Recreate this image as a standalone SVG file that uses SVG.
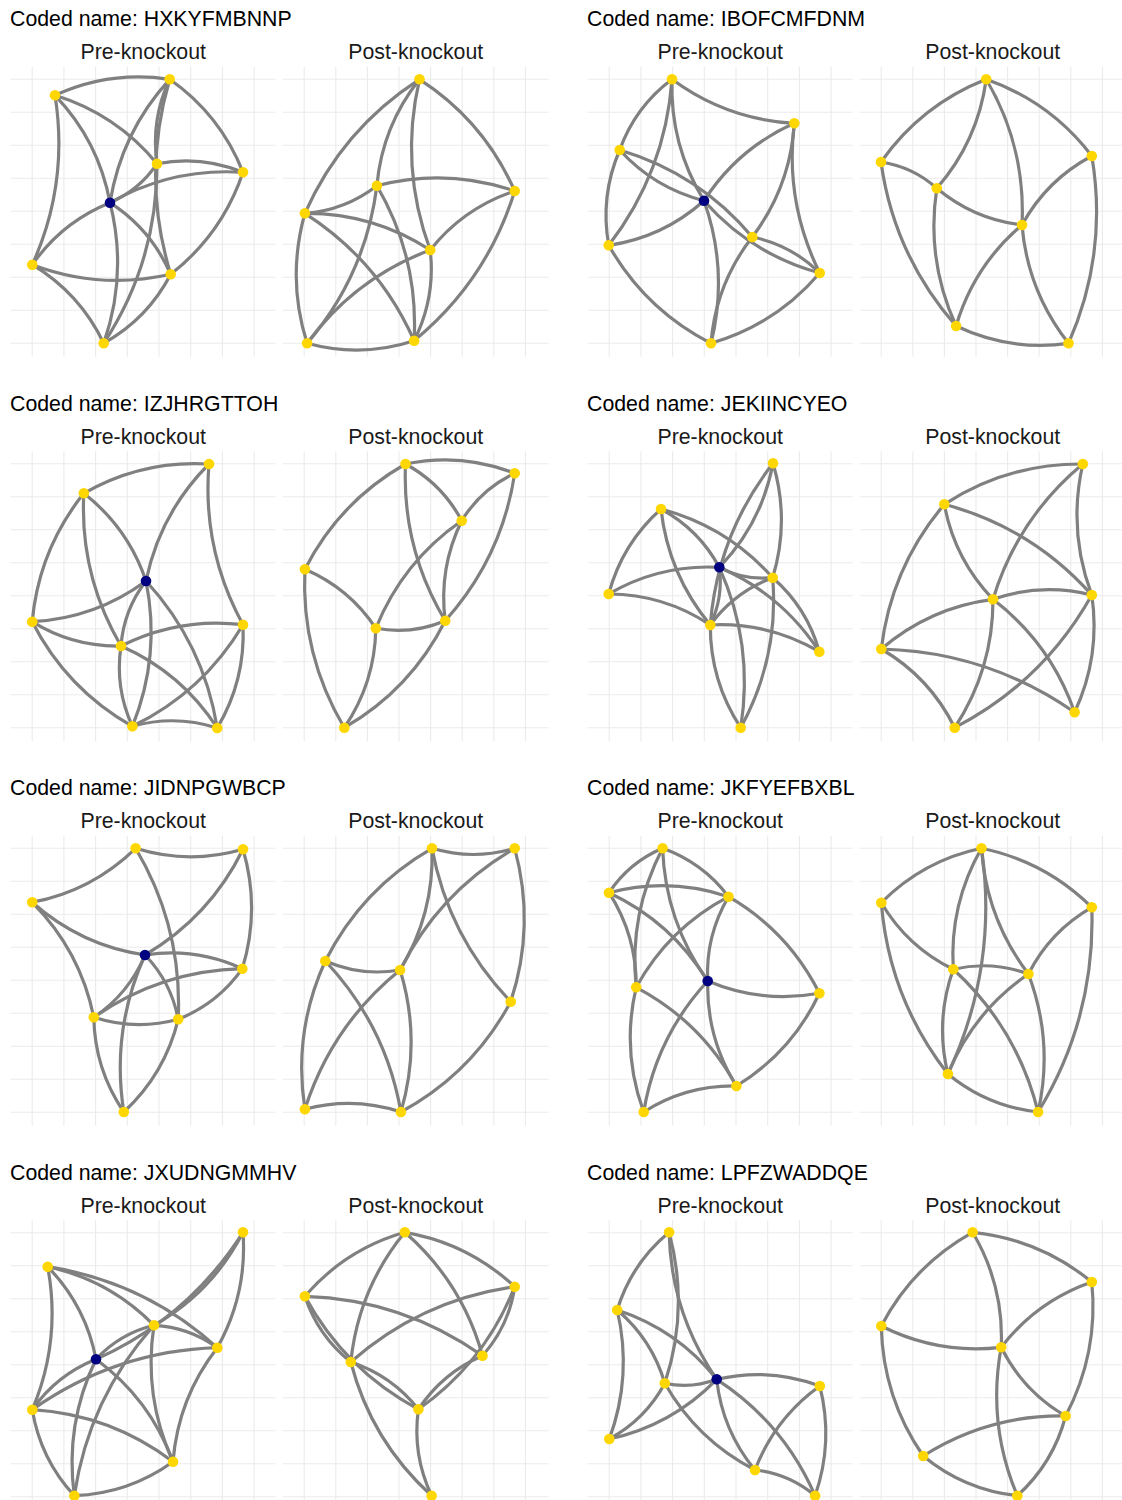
<svg xmlns="http://www.w3.org/2000/svg" xmlns:xlink="http://www.w3.org/1999/xlink" width="1122" height="1500" viewBox="0 0 1122 1500">
<style>
.t{font-family:"Liberation Sans",Arial,sans-serif;font-size:21.3px;fill:#000}
.st{font-family:"Liberation Sans",Arial,sans-serif;font-size:21.3px;fill:#1a1a1a;text-anchor:middle}
.gl{fill:none;stroke:#ebebeb;stroke-width:1.1}
.e path{fill:none;stroke:#808080;stroke-width:3.2;vector-effect:non-scaling-stroke}
.n{fill:#ffd700}
.k{fill:#000080}
</style>
<defs>
<g id="grid">
<path class="gl" d="M32.2 66.7V356.7M63.9 66.7V356.7M95.6 66.7V356.7M127.3 66.7V356.7M159 66.7V356.7M190.7 66.7V356.7M222.4 66.7V356.7M254.1 66.7V356.7M10.7 79.3H275.6M10.7 112.3H275.6M10.7 145.3H275.6M10.7 178.3H275.6M10.7 211.3H275.6M10.7 244.3H275.6M10.7 277.3H275.6M10.7 310.3H275.6M10.7 343.3H275.6"/>
<path class="gl" d="M304.2 66.7V356.7M335.8 66.7V356.7M367.4 66.7V356.7M399 66.7V356.7M430.6 66.7V356.7M462.2 66.7V356.7M493.8 66.7V356.7M525.4 66.7V356.7M282.8 79.3H548.7M282.8 112.3H548.7M282.8 145.3H548.7M282.8 178.3H548.7M282.8 211.3H548.7M282.8 244.3H548.7M282.8 277.3H548.7M282.8 310.3H548.7M282.8 343.3H548.7"/>
</g>
</defs>
<rect width="1122" height="1500" fill="#fff"/>
<g id="grids">
<use href="#grid" x="0" y="0"/>
<use href="#grid" x="577" y="0"/>
<use href="#grid" x="0" y="384.5"/>
<use href="#grid" x="577" y="384.5"/>
<use href="#grid" x="0" y="769"/>
<use href="#grid" x="577" y="769"/>
<use href="#grid" x="0" y="1153.5"/>
<use href="#grid" x="577" y="1153.5"/>
</g>
<g id="titles">
<g transform="translate(0,0)"><text class="t" x="10" y="26">Coded name: HXKYFMBNNP</text><text class="st" x="143.2" y="59.3">Pre-knockout</text><text class="st" x="415.7" y="59.3">Post-knockout</text></g>
<g transform="translate(577,0)"><text class="t" x="10" y="26">Coded name: IBOFCMFDNM</text><text class="st" x="143.2" y="59.3">Pre-knockout</text><text class="st" x="415.7" y="59.3">Post-knockout</text></g>
<g transform="translate(0,384.5)"><text class="t" x="10" y="26">Coded name: IZJHRGTTOH</text><text class="st" x="143.2" y="59.3">Pre-knockout</text><text class="st" x="415.7" y="59.3">Post-knockout</text></g>
<g transform="translate(577,384.5)"><text class="t" x="10" y="26">Coded name: JEKIINCYEO</text><text class="st" x="143.2" y="59.3">Pre-knockout</text><text class="st" x="415.7" y="59.3">Post-knockout</text></g>
<g transform="translate(0,769)"><text class="t" x="10" y="26">Coded name: JIDNPGWBCP</text><text class="st" x="143.2" y="59.3">Pre-knockout</text><text class="st" x="415.7" y="59.3">Post-knockout</text></g>
<g transform="translate(577,769)"><text class="t" x="10" y="26">Coded name: JKFYEFBXBL</text><text class="st" x="143.2" y="59.3">Pre-knockout</text><text class="st" x="415.7" y="59.3">Post-knockout</text></g>
<g transform="translate(0,1153.5)"><text class="t" x="10" y="26">Coded name: JXUDNGMMHV</text><text class="st" x="143.2" y="59.3">Pre-knockout</text><text class="st" x="415.7" y="59.3">Post-knockout</text></g>
<g transform="translate(577,1153.5)"><text class="t" x="10" y="26">Coded name: LPFZWADDQE</text><text class="st" x="143.2" y="59.3">Pre-knockout</text><text class="st" x="415.7" y="59.3">Post-knockout</text></g>
</g>
<g id="connectors" class="e">
<!-- b1 pre -->
<path d="M0 0Q.5 .15 1 0" transform="matrix(-114.7 16 -16 -114.7 169.7 79.3)"/>
<path d="M0 0Q.5 .15 1 0" transform="matrix(22.7 -169.4 169.4 22.7 32.3 264.7)"/>
<path d="M0 0Q.5 .15 1 0" transform="matrix(-102 -68.4 68.4 -102 157 163.7)"/>
<path d="M0 0Q.5 .15 1 0" transform="matrix(-55 -107.4 107.4 -55 110 202.7)"/>
<path d="M0 0Q.5 .15 1 0" transform="matrix(-73.3 -93 93 -73.3 243 172.3)"/>
<path d="M0 0Q.5 .15 1 0" transform="matrix(-59.7 123.4 -123.4 -59.7 169.7 79.3)"/>
<path d="M0 0Q.5 .15 1 0" transform="matrix(-12.7 84.4 -84.4 -12.7 169.7 79.3)"/>
<path d="M0 0Q.5 .15 1 0" transform="matrix(1 195 -195 1 169.7 79.3)"/>
<path d="M0 0Q.5 .15 1 0" transform="matrix(-86 -8.6 8.6 -86 243 172.3)"/>
<path d="M0 0Q.5 .15 1 0" transform="matrix(53.3 -179.6 179.6 53.3 103.7 343.3)"/>
<path d="M0 0Q.5 .15 1 0" transform="matrix(-133 30.4 -30.4 -133 243 172.3)"/>
<path d="M0 0Q.5 .15 1 0" transform="matrix(47 -39 39 47 110 202.7)"/>
<path d="M0 0Q.5 .15 1 0" transform="matrix(-77.7 62 -62 -77.7 110 202.7)"/>
<path d="M0 0Q.5 .15 1 0" transform="matrix(-60.7 -71.6 71.6 -60.7 170.7 274.3)"/>
<path d="M0 0Q.5 .15 1 0" transform="matrix(6.3 -140.6 140.6 6.3 103.7 343.3)"/>
<path d="M0 0Q.5 .15 1 0" transform="matrix(138.4 9.6 -9.6 138.4 32.3 264.7)"/>
<path d="M0 0Q.5 .15 1 0" transform="matrix(-71.4 -78.6 78.6 -71.4 103.7 343.3)"/>
<path d="M0 0Q.5 .15 1 0" transform="matrix(72.3 -102 102 72.3 170.7 274.3)"/>
<path d="M0 0Q.5 .15 1 0" transform="matrix(67 -69 69 67 103.7 343.3)"/>
<!-- b1 post -->
<path d="M0 0Q.5 .15 1 0" transform="matrix(-95.2 -111.7 111.7 -95.2 514.7 191)"/>
<path d="M0 0Q.5 .15 1 0" transform="matrix(-114.6 134 -134 -114.6 419.5 79.3)"/>
<path d="M0 0Q.5 .15 1 0" transform="matrix(-42.6 106.4 -106.4 -42.6 419.5 79.3)"/>
<path d="M0 0Q.5 .15 1 0" transform="matrix(10.7 170.7 -170.7 10.7 419.5 79.3)"/>
<path d="M0 0Q.5 .15 1 0" transform="matrix(-137.8 -5.3 5.3 -137.8 514.7 191)"/>
<path d="M0 0Q.5 .15 1 0" transform="matrix(72 -27.6 27.6 72 304.9 213.3)"/>
<path d="M0 0Q.5 .15 1 0" transform="matrix(-37.2 -155 155 -37.2 414.1 340.7)"/>
<path d="M0 0Q.5 .15 1 0" transform="matrix(69.8 -157.6 157.6 69.8 307.1 343.3)"/>
<path d="M0 0Q.5 .15 1 0" transform="matrix(-125.3 -36.7 36.7 -125.3 430.2 250)"/>
<path d="M0 0Q.5 .15 1 0" transform="matrix(-109.2 -127.4 127.4 -109.2 414.1 340.7)"/>
<path d="M0 0Q.5 .15 1 0" transform="matrix(2.2 130 -130 2.2 304.9 213.3)"/>
<path d="M0 0Q.5 .15 1 0" transform="matrix(-84.5 59 -59 -84.5 514.7 191)"/>
<path d="M0 0Q.5 .15 1 0" transform="matrix(100.6 -149.7 149.7 100.6 414.1 340.7)"/>
<path d="M0 0Q.5 .15 1 0" transform="matrix(-123.1 93.3 -93.3 -123.1 430.2 250)"/>
<path d="M0 0Q.5 .15 1 0" transform="matrix(107 -2.6 2.6 107 307.1 343.3)"/>
<path d="M0 0Q.5 .15 1 0" transform="matrix(16.1 -90.7 90.7 16.1 414.1 340.7)"/>
<!-- b2 pre -->
<path d="M0 0Q.5 .15 1 0" transform="matrix(122.3 44 -44 122.3 672 79.3)"/>
<path d="M0 0Q.5 .15 1 0" transform="matrix(-52.3 70.7 -70.7 -52.3 672 79.3)"/>
<path d="M0 0Q.5 .15 1 0" transform="matrix(63.3 -166 166 63.3 608.7 245.3)"/>
<path d="M0 0Q.5 .15 1 0" transform="matrix(32 121.4 -121.4 32 672 79.3)"/>
<path d="M0 0Q.5 .15 1 0" transform="matrix(-90.3 77.4 -77.4 -90.3 794.3 123.3)"/>
<path d="M0 0Q.5 .15 1 0" transform="matrix(42 -113.7 113.7 42 752.3 237)"/>
<path d="M0 0Q.5 .15 1 0" transform="matrix(25.4 149.7 -149.7 25.4 794.3 123.3)"/>
<path d="M0 0Q.5 .15 1 0" transform="matrix(-11 95.3 -95.3 -11 619.7 150)"/>
<path d="M0 0Q.5 .15 1 0" transform="matrix(84.3 50.7 -50.7 84.3 619.7 150)"/>
<path d="M0 0Q.5 .15 1 0" transform="matrix(-132.6 -87 87 -132.6 752.3 237)"/>
<path d="M0 0Q.5 .15 1 0" transform="matrix(95.3 -44.6 44.6 95.3 608.7 245.3)"/>
<path d="M0 0Q.5 .15 1 0" transform="matrix(102.3 98 -98 102.3 608.7 245.3)"/>
<path d="M0 0Q.5 .15 1 0" transform="matrix(-7 -142.6 142.6 -7 711 343.3)"/>
<path d="M0 0Q.5 .15 1 0" transform="matrix(-41.3 106.3 -106.3 -41.3 752.3 237)"/>
<path d="M0 0Q.5 .15 1 0" transform="matrix(108.7 -70.3 70.3 108.7 711 343.3)"/>
<path d="M0 0Q.5 .15 1 0" transform="matrix(-67.4 -36 36 -67.4 819.7 273)"/>
<path d="M0 0Q.5 .15 1 0" transform="matrix(115.7 72.3 -72.3 115.7 704 200.7)"/>
<!-- b2 post -->
<path d="M0 0Q.5 .15 1 0" transform="matrix(-105.2 82.7 -82.7 -105.2 986.2 79.3)"/>
<path d="M0 0Q.5 .15 1 0" transform="matrix(-105.6 -76.7 76.7 -105.6 1091.8 156)"/>
<path d="M0 0Q.5 .15 1 0" transform="matrix(49.4 -109 109 49.4 936.8 188.3)"/>
<path d="M0 0Q.5 .15 1 0" transform="matrix(-35.8 -145.7 145.7 -35.8 1022 225)"/>
<path d="M0 0Q.5 .15 1 0" transform="matrix(-55.8 -26.3 26.3 -55.8 936.8 188.3)"/>
<path d="M0 0Q.5 .15 1 0" transform="matrix(75.1 164 -164 75.1 881 162)"/>
<path d="M0 0Q.5 .15 1 0" transform="matrix(85.2 36.7 -36.7 85.2 936.8 188.3)"/>
<path d="M0 0Q.5 .15 1 0" transform="matrix(19.3 137.7 -137.7 19.3 936.8 188.3)"/>
<path d="M0 0Q.5 .15 1 0" transform="matrix(-69.8 69 -69 -69.8 1091.8 156)"/>
<path d="M0 0Q.5 .15 1 0" transform="matrix(23.3 -187.3 187.3 23.3 1068.5 343.3)"/>
<path d="M0 0Q.5 .15 1 0" transform="matrix(-65.9 101 -101 -65.9 1022 225)"/>
<path d="M0 0Q.5 .15 1 0" transform="matrix(46.5 118.3 -118.3 46.5 1022 225)"/>
<path d="M0 0Q.5 .15 1 0" transform="matrix(112.4 17.3 -17.3 112.4 956.1 326)"/>
<!-- b3 pre -->
<path d="M0 0Q.5 .15 1 0" transform="matrix(-125.2 29.3 -29.3 -125.2 209 464)"/>
<path d="M0 0Q.5 .15 1 0" transform="matrix(-63 117 -117 -63 209 464)"/>
<path d="M0 0Q.5 .15 1 0" transform="matrix(34 160.7 -160.7 34 209 464)"/>
<path d="M0 0Q.5 .15 1 0" transform="matrix(-51.6 128.4 -128.4 -51.6 83.8 493.3)"/>
<path d="M0 0Q.5 .15 1 0" transform="matrix(-62.2 -87.7 87.7 -62.2 146 581)"/>
<path d="M0 0Q.5 .15 1 0" transform="matrix(37.2 152.7 -152.7 37.2 83.8 493.3)"/>
<path d="M0 0Q.5 .15 1 0" transform="matrix(113.8 -40.7 40.7 113.8 32.2 621.7)"/>
<path d="M0 0Q.5 .15 1 0" transform="matrix(88.8 24.3 -24.3 88.8 32.2 621.7)"/>
<path d="M0 0Q.5 .15 1 0" transform="matrix(100.2 104.6 -104.6 100.2 32.2 621.7)"/>
<path d="M0 0Q.5 .15 1 0" transform="matrix(-25 65 -65 -25 146 581)"/>
<path d="M0 0Q.5 .15 1 0" transform="matrix(13.6 -145.3 145.3 13.6 132.4 726.3)"/>
<path d="M0 0Q.5 .15 1 0" transform="matrix(-71.2 -147 147 -71.2 217.2 728)"/>
<path d="M0 0Q.5 .15 1 0" transform="matrix(-122 21.3 -21.3 -122 243 624.7)"/>
<path d="M0 0Q.5 .15 1 0" transform="matrix(11.4 80.3 -80.3 11.4 121 646)"/>
<path d="M0 0Q.5 .15 1 0" transform="matrix(-96.2 -82 82 -96.2 217.2 728)"/>
<path d="M0 0Q.5 .15 1 0" transform="matrix(110.6 -101.6 101.6 110.6 132.4 726.3)"/>
<path d="M0 0Q.5 .15 1 0" transform="matrix(-84.8 -1.7 1.7 -84.8 217.2 728)"/>
<path d="M0 0Q.5 .15 1 0" transform="matrix(25.8 -103.3 103.3 25.8 217.2 728)"/>
<!-- b3 post -->
<path d="M0 0Q.5 .15 1 0" transform="matrix(-109.2 -9.3 9.3 -109.2 514.7 473.3)"/>
<path d="M0 0Q.5 .15 1 0" transform="matrix(-100.6 105.3 -105.3 -100.6 405.5 464)"/>
<path d="M0 0Q.5 .15 1 0" transform="matrix(-56.2 -56.7 56.7 -56.2 461.7 520.7)"/>
<path d="M0 0Q.5 .15 1 0" transform="matrix(39.7 156.7 -156.7 39.7 405.5 464)"/>
<path d="M0 0Q.5 .15 1 0" transform="matrix(-53 47.4 -47.4 -53 514.7 473.3)"/>
<path d="M0 0Q.5 .15 1 0" transform="matrix(69.5 -147.4 147.4 69.5 445.2 620.7)"/>
<path d="M0 0Q.5 .15 1 0" transform="matrix(-85.9 107.6 -107.6 -85.9 461.7 520.7)"/>
<path d="M0 0Q.5 .15 1 0" transform="matrix(-16.5 100 -100 -16.5 461.7 520.7)"/>
<path d="M0 0Q.5 .15 1 0" transform="matrix(-70.9 -59 59 -70.9 375.8 628.3)"/>
<path d="M0 0Q.5 .15 1 0" transform="matrix(39.4 158.4 -158.4 39.4 304.9 569.3)"/>
<path d="M0 0Q.5 .15 1 0" transform="matrix(69.4 -7.6 7.6 69.4 375.8 628.3)"/>
<path d="M0 0Q.5 .15 1 0" transform="matrix(31.5 -99.4 99.4 31.5 344.3 727.7)"/>
<path d="M0 0Q.5 .15 1 0" transform="matrix(100.9 -107 107 100.9 344.3 727.7)"/>
<!-- b4 pre -->
<path d="M0 0Q.5 .15 1 0" transform="matrix(-52.3 85 -85 -52.3 661 509)"/>
<path d="M0 0Q.5 .15 1 0" transform="matrix(-110.6 26.7 -26.7 -110.6 719.3 567.3)"/>
<path d="M0 0Q.5 .15 1 0" transform="matrix(-101.6 -31 31 -101.6 710.3 625)"/>
<path d="M0 0Q.5 .15 1 0" transform="matrix(49.3 116 -116 49.3 661 509)"/>
<path d="M0 0Q.5 .15 1 0" transform="matrix(-58.3 -58.3 58.3 -58.3 719.3 567.3)"/>
<path d="M0 0Q.5 .15 1 0" transform="matrix(-111.7 -68.7 68.7 -111.7 772.7 577.7)"/>
<path d="M0 0Q.5 .15 1 0" transform="matrix(-46.6 -74 74 -46.6 819.3 651.7)"/>
<path d="M0 0Q.5 .15 1 0" transform="matrix(-100 -84.4 84.4 -100 819.3 651.7)"/>
<path d="M0 0Q.5 .15 1 0" transform="matrix(-109 -26.7 26.7 -109 819.3 651.7)"/>
<path d="M0 0Q.5 .15 1 0" transform="matrix(53.4 10.4 -10.4 53.4 719.3 567.3)"/>
<path d="M0 0Q.5 .15 1 0" transform="matrix(0.3 -114.4 114.4 0.3 772.7 577.7)"/>
<path d="M0 0Q.5 .15 1 0" transform="matrix(32 -150 150 32 740.7 727.7)"/>
<path d="M0 0Q.5 .15 1 0" transform="matrix(53.7 -104 104 53.7 719.3 567.3)"/>
<path d="M0 0Q.5 .15 1 0" transform="matrix(-62.7 161.7 -161.7 -62.7 773 463.3)"/>
<path d="M0 0Q.5 .15 1 0" transform="matrix(9 -57.7 57.7 9 710.3 625)"/>
<path d="M0 0Q.5 .15 1 0" transform="matrix(-21.4 -160.4 160.4 -21.4 740.7 727.7)"/>
<path d="M0 0Q.5 .15 1 0" transform="matrix(30.4 102.7 -102.7 30.4 710.3 625)"/>
<path d="M0 0Q.5 .15 1 0" transform="matrix(-62.4 47.3 -47.3 -62.4 772.7 577.7)"/>
<!-- b4 post -->
<path d="M0 0Q.5 .15 1 0" transform="matrix(-138.5 40.3 -40.3 -138.5 1082.8 464)"/>
<path d="M0 0Q.5 .15 1 0" transform="matrix(9 131 -131 9 1082.8 464)"/>
<path d="M0 0Q.5 .15 1 0" transform="matrix(-89.8 135.3 -135.3 -89.8 1082.8 464)"/>
<path d="M0 0Q.5 .15 1 0" transform="matrix(-63 144.7 -144.7 -63 944.3 504.3)"/>
<path d="M0 0Q.5 .15 1 0" transform="matrix(48.7 95 -95 48.7 944.3 504.3)"/>
<path d="M0 0Q.5 .15 1 0" transform="matrix(-147.5 -90.7 90.7 -147.5 1091.8 595)"/>
<path d="M0 0Q.5 .15 1 0" transform="matrix(-98.8 4.3 -4.3 -98.8 1091.8 595)"/>
<path d="M0 0Q.5 .15 1 0" transform="matrix(-111.7 49.7 -49.7 -111.7 993 599.3)"/>
<path d="M0 0Q.5 .15 1 0" transform="matrix(-73.4 -78.7 78.7 -73.4 954.7 727.7)"/>
<path d="M0 0Q.5 .15 1 0" transform="matrix(-193.3 -63.3 63.3 -193.3 1074.6 712.3)"/>
<path d="M0 0Q.5 .15 1 0" transform="matrix(38.3 -128.4 128.4 38.3 954.7 727.7)"/>
<path d="M0 0Q.5 .15 1 0" transform="matrix(-81.6 -113 113 -81.6 1074.6 712.3)"/>
<path d="M0 0Q.5 .15 1 0" transform="matrix(137.1 -132.7 132.7 137.1 954.7 727.7)"/>
<path d="M0 0Q.5 .15 1 0" transform="matrix(17.2 -117.3 117.3 17.2 1074.6 712.3)"/>
<!-- b5 pre -->
<path d="M0 0Q.5 .15 1 0" transform="matrix(107.4 1 -1 107.4 135.6 848.3)"/>
<path d="M0 0Q.5 .15 1 0" transform="matrix(103.4 -54 54 103.4 32.2 902.3)"/>
<path d="M0 0Q.5 .15 1 0" transform="matrix(-42.6 -171 171 -42.6 178.2 1019.3)"/>
<path d="M0 0Q.5 .15 1 0" transform="matrix(0.7 -119.4 119.4 0.7 242.3 968.7)"/>
<path d="M0 0Q.5 .15 1 0" transform="matrix(98 -105.7 105.7 98 145 955)"/>
<path d="M0 0Q.5 .15 1 0" transform="matrix(112.8 52.7 -52.7 112.8 32.2 902.3)"/>
<path d="M0 0Q.5 .15 1 0" transform="matrix(-61.6 -115 115 -61.6 93.8 1017.3)"/>
<path d="M0 0Q.5 .15 1 0" transform="matrix(-97.3 -13.7 13.7 -97.3 242.3 968.7)"/>
<path d="M0 0Q.5 .15 1 0" transform="matrix(51.2 -62.3 62.3 51.2 93.8 1017.3)"/>
<path d="M0 0Q.5 .15 1 0" transform="matrix(-33.2 -64.3 64.3 -33.2 178.2 1019.3)"/>
<path d="M0 0Q.5 .15 1 0" transform="matrix(-21.2 157 -157 -21.2 145 955)"/>
<path d="M0 0Q.5 .15 1 0" transform="matrix(-148.5 48.6 -48.6 -148.5 242.3 968.7)"/>
<path d="M0 0Q.5 .15 1 0" transform="matrix(84.4 2 -2 84.4 93.8 1017.3)"/>
<path d="M0 0Q.5 .15 1 0" transform="matrix(30 94.7 -94.7 30 93.8 1017.3)"/>
<path d="M0 0Q.5 .15 1 0" transform="matrix(64.1 -50.6 50.6 64.1 178.2 1019.3)"/>
<path d="M0 0Q.5 .15 1 0" transform="matrix(54.4 -92.7 92.7 54.4 123.8 1112)"/>
<!-- b5 post -->
<path d="M0 0Q.5 .15 1 0" transform="matrix(82.7 0 0 82.7 432 848.3)"/>
<path d="M0 0Q.5 .15 1 0" transform="matrix(-106.7 112.7 -112.7 -106.7 432 848.3)"/>
<path d="M0 0Q.5 .15 1 0" transform="matrix(31.9 -121.7 121.7 31.9 400.1 970)"/>
<path d="M0 0Q.5 .15 1 0" transform="matrix(78.7 153.4 -153.4 78.7 432 848.3)"/>
<path d="M0 0Q.5 .15 1 0" transform="matrix(-114.6 121.7 -121.7 -114.6 514.7 848.3)"/>
<path d="M0 0Q.5 .15 1 0" transform="matrix(4 -153.4 153.4 4 510.7 1001.7)"/>
<path d="M0 0Q.5 .15 1 0" transform="matrix(74.8 9 -9 74.8 325.3 961)"/>
<path d="M0 0Q.5 .15 1 0" transform="matrix(-20.4 148.3 -148.3 -20.4 325.3 961)"/>
<path d="M0 0Q.5 .15 1 0" transform="matrix(-75.6 -151 151 -75.6 400.9 1112)"/>
<path d="M0 0Q.5 .15 1 0" transform="matrix(-95.2 139.3 -139.3 -95.2 400.1 970)"/>
<path d="M0 0Q.5 .15 1 0" transform="matrix(-0.8 -142 142 -0.8 400.9 1112)"/>
<path d="M0 0Q.5 .15 1 0" transform="matrix(109.8 -110.3 110.3 109.8 400.9 1112)"/>
<path d="M0 0Q.5 .15 1 0" transform="matrix(-96 -2.7 2.7 -96 400.9 1112)"/>
<!-- b6 pre -->
<path d="M0 0Q.5 .15 1 0" transform="matrix(-53.6 44.4 -44.4 -53.6 662.6 848.3)"/>
<path d="M0 0Q.5 .15 1 0" transform="matrix(-65.9 -48.4 48.4 -65.9 728.5 896.7)"/>
<path d="M0 0Q.5 .15 1 0" transform="matrix(-119.5 -4 4 -119.5 728.5 896.7)"/>
<path d="M0 0Q.5 .15 1 0" transform="matrix(-26.4 139 -139 -26.4 662.6 848.3)"/>
<path d="M0 0Q.5 .15 1 0" transform="matrix(45.1 132.7 -132.7 45.1 662.6 848.3)"/>
<path d="M0 0Q.5 .15 1 0" transform="matrix(-98.7 -88.3 88.3 -98.7 707.7 981)"/>
<path d="M0 0Q.5 .15 1 0" transform="matrix(-27.2 -94.6 94.6 -27.2 636.2 987.3)"/>
<path d="M0 0Q.5 .15 1 0" transform="matrix(-92.3 90.6 -90.6 -92.3 728.5 896.7)"/>
<path d="M0 0Q.5 .15 1 0" transform="matrix(-20.8 84.3 -84.3 -20.8 728.5 896.7)"/>
<path d="M0 0Q.5 .15 1 0" transform="matrix(-90.9 -96.6 96.6 -90.9 819.4 993.3)"/>
<path d="M0 0Q.5 .15 1 0" transform="matrix(111.7 12.3 -12.3 111.7 707.7 981)"/>
<path d="M0 0Q.5 .15 1 0" transform="matrix(7.5 124.7 -124.7 7.5 636.2 987.3)"/>
<path d="M0 0Q.5 .15 1 0" transform="matrix(-100.2 -98.7 98.7 -100.2 736.4 1086)"/>
<path d="M0 0Q.5 .15 1 0" transform="matrix(-64 131 -131 -64 707.7 981)"/>
<path d="M0 0Q.5 .15 1 0" transform="matrix(28.7 105 -105 28.7 707.7 981)"/>
<path d="M0 0Q.5 .15 1 0" transform="matrix(83 -92.7 92.7 83 736.4 1086)"/>
<path d="M0 0Q.5 .15 1 0" transform="matrix(-92.7 26 -26 -92.7 736.4 1086)"/>
<!-- b6 post -->
<path d="M0 0Q.5 .15 1 0" transform="matrix(-100.2 54.4 -54.4 -100.2 981.5 848.3)"/>
<path d="M0 0Q.5 .15 1 0" transform="matrix(-110.3 -59 59 -110.3 1091.8 907.3)"/>
<path d="M0 0Q.5 .15 1 0" transform="matrix(-28.2 121 -121 -28.2 981.5 848.3)"/>
<path d="M0 0Q.5 .15 1 0" transform="matrix(33.6 -225.7 225.7 33.6 947.9 1074)"/>
<path d="M0 0Q.5 .15 1 0" transform="matrix(46.9 125.7 -125.7 46.9 981.5 848.3)"/>
<path d="M0 0Q.5 .15 1 0" transform="matrix(72 66.6 -66.6 72 881.3 902.7)"/>
<path d="M0 0Q.5 .15 1 0" transform="matrix(66.6 171.3 -171.3 66.6 881.3 902.7)"/>
<path d="M0 0Q.5 .15 1 0" transform="matrix(-63.4 66.7 -66.7 -63.4 1091.8 907.3)"/>
<path d="M0 0Q.5 .15 1 0" transform="matrix(53.7 -204.7 204.7 53.7 1038.1 1112)"/>
<path d="M0 0Q.5 .15 1 0" transform="matrix(-75.1 -4.7 4.7 -75.1 1028.4 974)"/>
<path d="M0 0Q.5 .15 1 0" transform="matrix(-84.8 -142.7 142.7 -84.8 1038.1 1112)"/>
<path d="M0 0Q.5 .15 1 0" transform="matrix(-5.4 104.7 -104.7 -5.4 953.3 969.3)"/>
<path d="M0 0Q.5 .15 1 0" transform="matrix(-80.5 100 -100 -80.5 1028.4 974)"/>
<path d="M0 0Q.5 .15 1 0" transform="matrix(-9.7 -138 138 -9.7 1038.1 1112)"/>
<path d="M0 0Q.5 .15 1 0" transform="matrix(90.2 38 -38 90.2 947.9 1074)"/>
<!-- b7 pre -->
<path d="M0 0Q.5 .15 1 0" transform="matrix(89 -93 93 89 154 1325.3)"/>
<path d="M0 0Q.5 .15 1 0" transform="matrix(147 -127 127 147 96 1359.3)"/>
<path d="M0 0Q.5 .15 1 0" transform="matrix(-58 34 -34 -58 154 1325.3)"/>
<path d="M0 0Q.5 .15 1 0" transform="matrix(25.7 -115.4 115.4 25.7 217.3 1347.7)"/>
<path d="M0 0Q.5 .15 1 0" transform="matrix(15.4 -143 143 15.4 32.3 1409.7)"/>
<path d="M0 0Q.5 .15 1 0" transform="matrix(-48.3 -92.6 92.6 -48.3 96 1359.3)"/>
<path d="M0 0Q.5 .15 1 0" transform="matrix(-169.6 -81 81 -169.6 217.3 1347.7)"/>
<path d="M0 0Q.5 .15 1 0" transform="matrix(-106.3 -58.6 58.6 -106.3 154 1325.3)"/>
<path d="M0 0Q.5 .15 1 0" transform="matrix(-63.3 -22.4 22.4 -63.3 217.3 1347.7)"/>
<path d="M0 0Q.5 .15 1 0" transform="matrix(-63.7 50.4 -50.4 -63.7 96 1359.3)"/>
<path d="M0 0Q.5 .15 1 0" transform="matrix(-185 62 -62 -185 217.3 1347.7)"/>
<path d="M0 0Q.5 .15 1 0" transform="matrix(-140.7 -52 52 -140.7 173 1461.7)"/>
<path d="M0 0Q.5 .15 1 0" transform="matrix(42 86 -86 42 32.3 1409.7)"/>
<path d="M0 0Q.5 .15 1 0" transform="matrix(-77 -102.4 102.4 -77 173 1461.7)"/>
<path d="M0 0Q.5 .15 1 0" transform="matrix(-21.7 136.4 -136.4 -21.7 96 1359.3)"/>
<path d="M0 0Q.5 .15 1 0" transform="matrix(19 136.4 -136.4 19 154 1325.3)"/>
<path d="M0 0Q.5 .15 1 0" transform="matrix(-79.7 170.4 -170.4 -79.7 154 1325.3)"/>
<path d="M0 0Q.5 .15 1 0" transform="matrix(-44.3 114 -114 -44.3 217.3 1347.7)"/>
<path d="M0 0Q.5 .15 1 0" transform="matrix(98.7 -34 34 98.7 74.3 1495.7)"/>
<!-- b7 post -->
<path d="M0 0Q.5 .15 1 0" transform="matrix(-99.9 64 -64 -99.9 404.8 1232.3)"/>
<path d="M0 0Q.5 .15 1 0" transform="matrix(-109.9 -54.4 54.4 -109.9 514.7 1286.7)"/>
<path d="M0 0Q.5 .15 1 0" transform="matrix(-54 129.7 -129.7 -54 404.8 1232.3)"/>
<path d="M0 0Q.5 .15 1 0" transform="matrix(-77.7 -123.4 123.4 -77.7 482.5 1355.7)"/>
<path d="M0 0Q.5 .15 1 0" transform="matrix(-177.6 -59.4 59.4 -177.6 482.5 1355.7)"/>
<path d="M0 0Q.5 .15 1 0" transform="matrix(45.9 65.7 -65.7 45.9 304.9 1296.3)"/>
<path d="M0 0Q.5 .15 1 0" transform="matrix(113.5 113 -113 113.5 304.9 1296.3)"/>
<path d="M0 0Q.5 .15 1 0" transform="matrix(80.8 133.7 -133.7 80.8 350.8 1362)"/>
<path d="M0 0Q.5 .15 1 0" transform="matrix(-67.6 -47.3 47.3 -67.6 418.4 1409.3)"/>
<path d="M0 0Q.5 .15 1 0" transform="matrix(-163.9 75.3 -75.3 -163.9 514.7 1286.7)"/>
<path d="M0 0Q.5 .15 1 0" transform="matrix(32.2 -69 69 32.2 482.5 1355.7)"/>
<path d="M0 0Q.5 .15 1 0" transform="matrix(96.3 -122.6 122.6 96.3 418.4 1409.3)"/>
<path d="M0 0Q.5 .15 1 0" transform="matrix(-64.1 53.6 -53.6 -64.1 482.5 1355.7)"/>
<path d="M0 0Q.5 .15 1 0" transform="matrix(13.2 86.4 -86.4 13.2 418.4 1409.3)"/>
<!-- b8 pre -->
<path d="M0 0Q.5 .15 1 0" transform="matrix(-51.9 77.7 -77.7 -51.9 669.1 1232.3)"/>
<path d="M0 0Q.5 .15 1 0" transform="matrix(4.3 -151 151 4.3 664.8 1383.3)"/>
<path d="M0 0Q.5 .15 1 0" transform="matrix(47.6 147 -147 47.6 669.1 1232.3)"/>
<path d="M0 0Q.5 .15 1 0" transform="matrix(7.9 -129 129 7.9 609.3 1439)"/>
<path d="M0 0Q.5 .15 1 0" transform="matrix(-47.6 -73.3 73.3 -47.6 664.8 1383.3)"/>
<path d="M0 0Q.5 .15 1 0" transform="matrix(-99.5 -69.3 69.3 -99.5 716.7 1379.3)"/>
<path d="M0 0Q.5 .15 1 0" transform="matrix(90.2 86.7 -86.7 90.2 664.8 1383.3)"/>
<path d="M0 0Q.5 .15 1 0" transform="matrix(51.9 -4 4 51.9 664.8 1383.3)"/>
<path d="M0 0Q.5 .15 1 0" transform="matrix(55.5 -55.7 55.7 55.5 609.3 1439)"/>
<path d="M0 0Q.5 .15 1 0" transform="matrix(107.4 -59.7 59.7 107.4 609.3 1439)"/>
<path d="M0 0Q.5 .15 1 0" transform="matrix(-103.1 -6.7 6.7 -103.1 819.8 1386)"/>
<path d="M0 0Q.5 .15 1 0" transform="matrix(38.3 90.7 -90.7 38.3 716.7 1379.3)"/>
<path d="M0 0Q.5 .15 1 0" transform="matrix(-98.4 -116.4 116.4 -98.4 815.1 1495.7)"/>
<path d="M0 0Q.5 .15 1 0" transform="matrix(-64.8 84 -84 -64.8 819.8 1386)"/>
<path d="M0 0Q.5 .15 1 0" transform="matrix(-60.1 -25.7 25.7 -60.1 815.1 1495.7)"/>
<path d="M0 0Q.5 .15 1 0" transform="matrix(4.7 -109.7 109.7 4.7 815.1 1495.7)"/>
<!-- b8 post -->
<path d="M0 0Q.5 .15 1 0" transform="matrix(-119.2 -49.7 49.7 -119.2 1091.8 1282)"/>
<path d="M0 0Q.5 .15 1 0" transform="matrix(-91.3 93.7 -93.7 -91.3 972.6 1232.3)"/>
<path d="M0 0Q.5 .15 1 0" transform="matrix(-28.6 -115 115 -28.6 1001.2 1347.3)"/>
<path d="M0 0Q.5 .15 1 0" transform="matrix(119.9 21.3 -21.3 119.9 881.3 1326)"/>
<path d="M0 0Q.5 .15 1 0" transform="matrix(41.9 130 -130 41.9 881.3 1326)"/>
<path d="M0 0Q.5 .15 1 0" transform="matrix(-90.6 65.3 -65.3 -90.6 1091.8 1282)"/>
<path d="M0 0Q.5 .15 1 0" transform="matrix(26.2 -134 134 26.2 1065.6 1416)"/>
<path d="M0 0Q.5 .15 1 0" transform="matrix(64.4 68.7 -68.7 64.4 1001.2 1347.3)"/>
<path d="M0 0Q.5 .15 1 0" transform="matrix(16.1 148.4 -148.4 16.1 1001.2 1347.3)"/>
<path d="M0 0Q.5 .15 1 0" transform="matrix(-142.4 40 -40 -142.4 1065.6 1416)"/>
<path d="M0 0Q.5 .15 1 0" transform="matrix(94.1 39.7 -39.7 94.1 923.2 1456)"/>
<path d="M0 0Q.5 .15 1 0" transform="matrix(48.3 -79.7 79.7 48.3 1017.3 1495.7)"/>
</g>
<g id="nodes">
<g id="b1pre-A"><circle class="n" cx="55" cy="95.3" r="5.3"/></g>
<g id="b1pre-B"><circle class="n" cx="169.7" cy="79.3" r="5.3"/></g>
<g id="b1pre-C"><circle class="n" cx="157" cy="163.7" r="5.3"/></g>
<g id="b1pre-D"><circle class="n" cx="243" cy="172.3" r="5.3"/></g>
<g id="b1pre-E"><circle class="k" cx="110" cy="202.7" r="5.3"/></g>
<g id="b1pre-F"><circle class="n" cx="32.3" cy="264.7" r="5.3"/></g>
<g id="b1pre-G"><circle class="n" cx="170.7" cy="274.3" r="5.3"/></g>
<g id="b1pre-H"><circle class="n" cx="103.7" cy="343.3" r="5.3"/></g>
<g id="b1post-P"><circle class="n" cx="419.5" cy="79.3" r="5.3"/></g>
<g id="b1post-Q"><circle class="n" cx="376.9" cy="185.7" r="5.3"/></g>
<g id="b1post-R"><circle class="n" cx="514.7" cy="191" r="5.3"/></g>
<g id="b1post-S"><circle class="n" cx="304.9" cy="213.3" r="5.3"/></g>
<g id="b1post-T"><circle class="n" cx="430.2" cy="250" r="5.3"/></g>
<g id="b1post-U"><circle class="n" cx="307.1" cy="343.3" r="5.3"/></g>
<g id="b1post-V"><circle class="n" cx="414.1" cy="340.7" r="5.3"/></g>
<g id="b2pre-A"><circle class="n" cx="672" cy="79.3" r="5.3"/></g>
<g id="b2pre-B"><circle class="n" cx="794.3" cy="123.3" r="5.3"/></g>
<g id="b2pre-C"><circle class="n" cx="619.7" cy="150" r="5.3"/></g>
<g id="b2pre-E"><circle class="k" cx="704" cy="200.7" r="5.3"/></g>
<g id="b2pre-D"><circle class="n" cx="752.3" cy="237" r="5.3"/></g>
<g id="b2pre-F"><circle class="n" cx="608.7" cy="245.3" r="5.3"/></g>
<g id="b2pre-G"><circle class="n" cx="819.7" cy="273" r="5.3"/></g>
<g id="b2pre-H"><circle class="n" cx="711" cy="343.3" r="5.3"/></g>
<g id="b2post-P"><circle class="n" cx="986.2" cy="79.3" r="5.3"/></g>
<g id="b2post-Q"><circle class="n" cx="881" cy="162" r="5.3"/></g>
<g id="b2post-R"><circle class="n" cx="1091.8" cy="156" r="5.3"/></g>
<g id="b2post-S"><circle class="n" cx="936.8" cy="188.3" r="5.3"/></g>
<g id="b2post-T"><circle class="n" cx="1022" cy="225" r="5.3"/></g>
<g id="b2post-U"><circle class="n" cx="956.1" cy="326" r="5.3"/></g>
<g id="b2post-V"><circle class="n" cx="1068.5" cy="343.3" r="5.3"/></g>
<g id="b3pre-A"><circle class="n" cx="209" cy="464" r="5.3"/></g>
<g id="b3pre-B"><circle class="n" cx="83.8" cy="493.3" r="5.3"/></g>
<g id="b3pre-E"><circle class="k" cx="146" cy="581" r="5.3"/></g>
<g id="b3pre-C"><circle class="n" cx="32.2" cy="621.7" r="5.3"/></g>
<g id="b3pre-D"><circle class="n" cx="243" cy="624.7" r="5.3"/></g>
<g id="b3pre-F"><circle class="n" cx="121" cy="646" r="5.3"/></g>
<g id="b3pre-G"><circle class="n" cx="132.4" cy="726.3" r="5.3"/></g>
<g id="b3pre-H"><circle class="n" cx="217.2" cy="728" r="5.3"/></g>
<g id="b3post-P"><circle class="n" cx="405.5" cy="464" r="5.3"/></g>
<g id="b3post-Q"><circle class="n" cx="514.7" cy="473.3" r="5.3"/></g>
<g id="b3post-R"><circle class="n" cx="461.7" cy="520.7" r="5.3"/></g>
<g id="b3post-S"><circle class="n" cx="304.9" cy="569.3" r="5.3"/></g>
<g id="b3post-T"><circle class="n" cx="445.2" cy="620.7" r="5.3"/></g>
<g id="b3post-U"><circle class="n" cx="375.8" cy="628.3" r="5.3"/></g>
<g id="b3post-V"><circle class="n" cx="344.3" cy="727.7" r="5.3"/></g>
<g id="b4pre-A"><circle class="n" cx="773" cy="463.3" r="5.3"/></g>
<g id="b4pre-B"><circle class="n" cx="661" cy="509" r="5.3"/></g>
<g id="b4pre-E"><circle class="k" cx="719.3" cy="567.3" r="5.3"/></g>
<g id="b4pre-C"><circle class="n" cx="772.7" cy="577.7" r="5.3"/></g>
<g id="b4pre-D"><circle class="n" cx="608.7" cy="594" r="5.3"/></g>
<g id="b4pre-F"><circle class="n" cx="710.3" cy="625" r="5.3"/></g>
<g id="b4pre-G"><circle class="n" cx="819.3" cy="651.7" r="5.3"/></g>
<g id="b4pre-H"><circle class="n" cx="740.7" cy="727.7" r="5.3"/></g>
<g id="b4post-P"><circle class="n" cx="1082.8" cy="464" r="5.3"/></g>
<g id="b4post-Q"><circle class="n" cx="944.3" cy="504.3" r="5.3"/></g>
<g id="b4post-R"><circle class="n" cx="993" cy="599.3" r="5.3"/></g>
<g id="b4post-S"><circle class="n" cx="1091.8" cy="595" r="5.3"/></g>
<g id="b4post-T"><circle class="n" cx="881.3" cy="649" r="5.3"/></g>
<g id="b4post-U"><circle class="n" cx="1074.6" cy="712.3" r="5.3"/></g>
<g id="b4post-V"><circle class="n" cx="954.7" cy="727.7" r="5.3"/></g>
<g id="b5pre-A"><circle class="n" cx="135.6" cy="848.3" r="5.3"/></g>
<g id="b5pre-B"><circle class="n" cx="243" cy="849.3" r="5.3"/></g>
<g id="b5pre-C"><circle class="n" cx="32.2" cy="902.3" r="5.3"/></g>
<g id="b5pre-E"><circle class="k" cx="145" cy="955" r="5.3"/></g>
<g id="b5pre-D"><circle class="n" cx="242.3" cy="968.7" r="5.3"/></g>
<g id="b5pre-F"><circle class="n" cx="93.8" cy="1017.3" r="5.3"/></g>
<g id="b5pre-G"><circle class="n" cx="178.2" cy="1019.3" r="5.3"/></g>
<g id="b5pre-H"><circle class="n" cx="123.8" cy="1112" r="5.3"/></g>
<g id="b5post-P"><circle class="n" cx="432" cy="848.3" r="5.3"/></g>
<g id="b5post-Q"><circle class="n" cx="514.7" cy="848.3" r="5.3"/></g>
<g id="b5post-R"><circle class="n" cx="325.3" cy="961" r="5.3"/></g>
<g id="b5post-S"><circle class="n" cx="400.1" cy="970" r="5.3"/></g>
<g id="b5post-T"><circle class="n" cx="510.7" cy="1001.7" r="5.3"/></g>
<g id="b5post-U"><circle class="n" cx="304.9" cy="1109.3" r="5.3"/></g>
<g id="b5post-V"><circle class="n" cx="400.9" cy="1112" r="5.3"/></g>
<g id="b6pre-A"><circle class="n" cx="662.6" cy="848.3" r="5.3"/></g>
<g id="b6pre-B"><circle class="n" cx="609" cy="892.7" r="5.3"/></g>
<g id="b6pre-C"><circle class="n" cx="728.5" cy="896.7" r="5.3"/></g>
<g id="b6pre-E"><circle class="k" cx="707.7" cy="981" r="5.3"/></g>
<g id="b6pre-D"><circle class="n" cx="636.2" cy="987.3" r="5.3"/></g>
<g id="b6pre-F"><circle class="n" cx="819.4" cy="993.3" r="5.3"/></g>
<g id="b6pre-G"><circle class="n" cx="736.4" cy="1086" r="5.3"/></g>
<g id="b6pre-H"><circle class="n" cx="643.7" cy="1112" r="5.3"/></g>
<g id="b6post-P"><circle class="n" cx="981.5" cy="848.3" r="5.3"/></g>
<g id="b6post-Q"><circle class="n" cx="881.3" cy="902.7" r="5.3"/></g>
<g id="b6post-R"><circle class="n" cx="1091.8" cy="907.3" r="5.3"/></g>
<g id="b6post-S"><circle class="n" cx="953.3" cy="969.3" r="5.3"/></g>
<g id="b6post-T"><circle class="n" cx="1028.4" cy="974" r="5.3"/></g>
<g id="b6post-U"><circle class="n" cx="947.9" cy="1074" r="5.3"/></g>
<g id="b6post-V"><circle class="n" cx="1038.1" cy="1112" r="5.3"/></g>
<g id="b7pre-A"><circle class="n" cx="243" cy="1232.3" r="5.3"/></g>
<g id="b7pre-B"><circle class="n" cx="47.7" cy="1266.7" r="5.3"/></g>
<g id="b7pre-C"><circle class="n" cx="154" cy="1325.3" r="5.3"/></g>
<g id="b7pre-D"><circle class="n" cx="217.3" cy="1347.7" r="5.3"/></g>
<g id="b7pre-E"><circle class="k" cx="96" cy="1359.3" r="5.3"/></g>
<g id="b7pre-F"><circle class="n" cx="32.3" cy="1409.7" r="5.3"/></g>
<g id="b7pre-G"><circle class="n" cx="173" cy="1461.7" r="5.3"/></g>
<g id="b7pre-H"><circle class="n" cx="74.3" cy="1495.7" r="5.3"/></g>
<g id="b7post-P"><circle class="n" cx="404.8" cy="1232.3" r="5.3"/></g>
<g id="b7post-Q"><circle class="n" cx="304.9" cy="1296.3" r="5.3"/></g>
<g id="b7post-R"><circle class="n" cx="514.7" cy="1286.7" r="5.3"/></g>
<g id="b7post-S"><circle class="n" cx="350.8" cy="1362" r="5.3"/></g>
<g id="b7post-T"><circle class="n" cx="482.5" cy="1355.7" r="5.3"/></g>
<g id="b7post-U"><circle class="n" cx="418.4" cy="1409.3" r="5.3"/></g>
<g id="b7post-V"><circle class="n" cx="431.6" cy="1495.7" r="5.3"/></g>
<g id="b8pre-A"><circle class="n" cx="669.1" cy="1232.3" r="5.3"/></g>
<g id="b8pre-B"><circle class="n" cx="617.2" cy="1310" r="5.3"/></g>
<g id="b8pre-C"><circle class="n" cx="664.8" cy="1383.3" r="5.3"/></g>
<g id="b8pre-E"><circle class="k" cx="716.7" cy="1379.3" r="5.3"/></g>
<g id="b8pre-D"><circle class="n" cx="819.8" cy="1386" r="5.3"/></g>
<g id="b8pre-F"><circle class="n" cx="609.3" cy="1439" r="5.3"/></g>
<g id="b8pre-G"><circle class="n" cx="755" cy="1470" r="5.3"/></g>
<g id="b8pre-H"><circle class="n" cx="815.1" cy="1495.7" r="5.3"/></g>
<g id="b8post-P"><circle class="n" cx="972.6" cy="1232.3" r="5.3"/></g>
<g id="b8post-Q"><circle class="n" cx="1091.8" cy="1282" r="5.3"/></g>
<g id="b8post-R"><circle class="n" cx="881.3" cy="1326" r="5.3"/></g>
<g id="b8post-S"><circle class="n" cx="1001.2" cy="1347.3" r="5.3"/></g>
<g id="b8post-T"><circle class="n" cx="1065.6" cy="1416" r="5.3"/></g>
<g id="b8post-U"><circle class="n" cx="923.2" cy="1456" r="5.3"/></g>
<g id="b8post-V"><circle class="n" cx="1017.3" cy="1495.7" r="5.3"/></g>
</g>
</svg>
